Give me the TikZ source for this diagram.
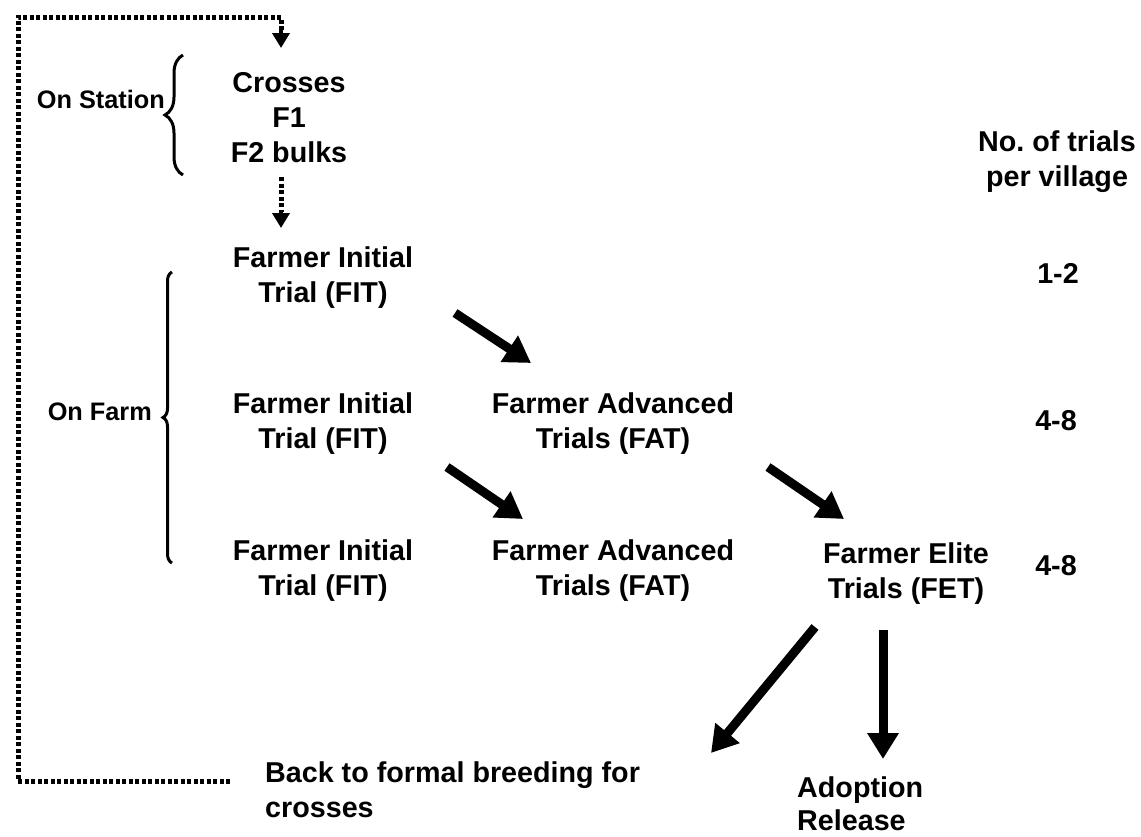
\documentclass[tikz,border=0pt]{standalone}
\usepackage{fontspec}
\setmainfont{Liberation Sans}
\usetikzlibrary{arrows.meta,decorations.pathreplacing}
\tikzset{
  lbl/.style={font=\fontsize{28.7}{35}\selectfont\bfseries, inner sep=0pt, align=center, anchor=base},
  lbll/.style={font=\fontsize{28.7}{35}\selectfont\bfseries, inner sep=0pt, align=left, anchor=base west},
  side/.style={font=\fontsize{25.3}{30}\selectfont\bfseries, inner sep=0pt, anchor=base east},
  bigarrow/.style={line width=9pt, -{Triangle[length=26pt,width=30pt]}},
  loopline/.style={line width=5pt, dash pattern=on 4pt off 2.5pt},
  smallhead/.style={-{Triangle[length=15pt,width=17pt]}},
  bracestyle/.style={line width=3pt, decorate}
}
\begin{document}
\begin{tikzpicture}[x=1pt,y=-1pt]
\useasboundingbox (0,0) rectangle (1141,836);
% texts (base anchor = baseline of the last line)
\node[lbl] (crosses) at (289,162) {Crosses\\F1\\F2 bulks};
\node[lbl] (fit1) at (323,302) {Farmer Initial\\Trial (FIT)};
\node[lbl] (fit2) at (323,448) {Farmer Initial\\Trial (FIT)};
\node[lbl] (fit3) at (323,595) {Farmer Initial\\Trial (FIT)};
\node[lbl] (fat2) at (613,448) {Farmer Advanced\\Trials (FAT)};
\node[lbl] (fat3) at (613,595) {Farmer Advanced\\Trials (FAT)};
\node[lbl] (fet) at (906,598) {Farmer Elite\\Trials (FET)};
\node[lbl] (ntrials) at (1057,186) {No.\ of trials\\per village};
\node[lbl] (n12) at (1058,283) {1-2};
\node[lbl] (n48a) at (1056,430) {4-8};
\node[lbl] (n48b) at (1056,575) {4-8};
\node[lbll] (back) at (265,817) {Back to formal breeding for\\crosses};
\node[lbll, font=\fontsize{28.7}{33}\selectfont\bfseries] (adopt) at (797,830) {Adoption\\Release};
\node[side] (onstation) at (165,108) {On Station};
\node[side] (onfarm) at (152,420) {On Farm};
% braces
\draw[bracestyle, decoration={brace, amplitude=18pt}] (183,175) -- (183,55);
\draw[bracestyle, decoration={brace, amplitude=9pt}] (172,563) -- (172,272);
% coordinates for connectors
\coordinate (lb0) at (230,781);
\coordinate (lb1) at (18,781);
\coordinate (lb2) at (18,17);
\coordinate (lb3) at (281,17);
\coordinate (lb4) at (281,48);
\coordinate (cs) at (281,177);
\coordinate (ft) at (281,228);
\coordinate (a1s) at (455,313);
\coordinate (a1e) at (531,363);
\coordinate (a2s) at (447,467);
\coordinate (a2e) at (523,519);
\coordinate (a3s) at (768,467);
\coordinate (a3e) at (844,519);
\coordinate (a4s) at (815,627);
\coordinate (a4e) at (711,753);
\coordinate (a5s) at (883,630);
\coordinate (a5e) at (883,759);
% feedback loop
\draw[loopline] (lb0) -- (lb1) -- (lb2) -- (lb3) -- (281,30);
\draw[line width=4pt, smallhead] (281,30) -- (lb4);
\draw[loopline] (cs) -- (281,212);
\draw[line width=4pt, smallhead] (281,210) -- (ft);
% main arrows
\draw[bigarrow] (a1s) -- (a1e);
\draw[bigarrow] (a2s) -- (a2e);
\draw[bigarrow] (a3s) -- (a3e);
\draw[bigarrow] (a4s) -- (a4e);
\draw[bigarrow] (a5s) -- (a5e);
\end{tikzpicture}
\end{document}
